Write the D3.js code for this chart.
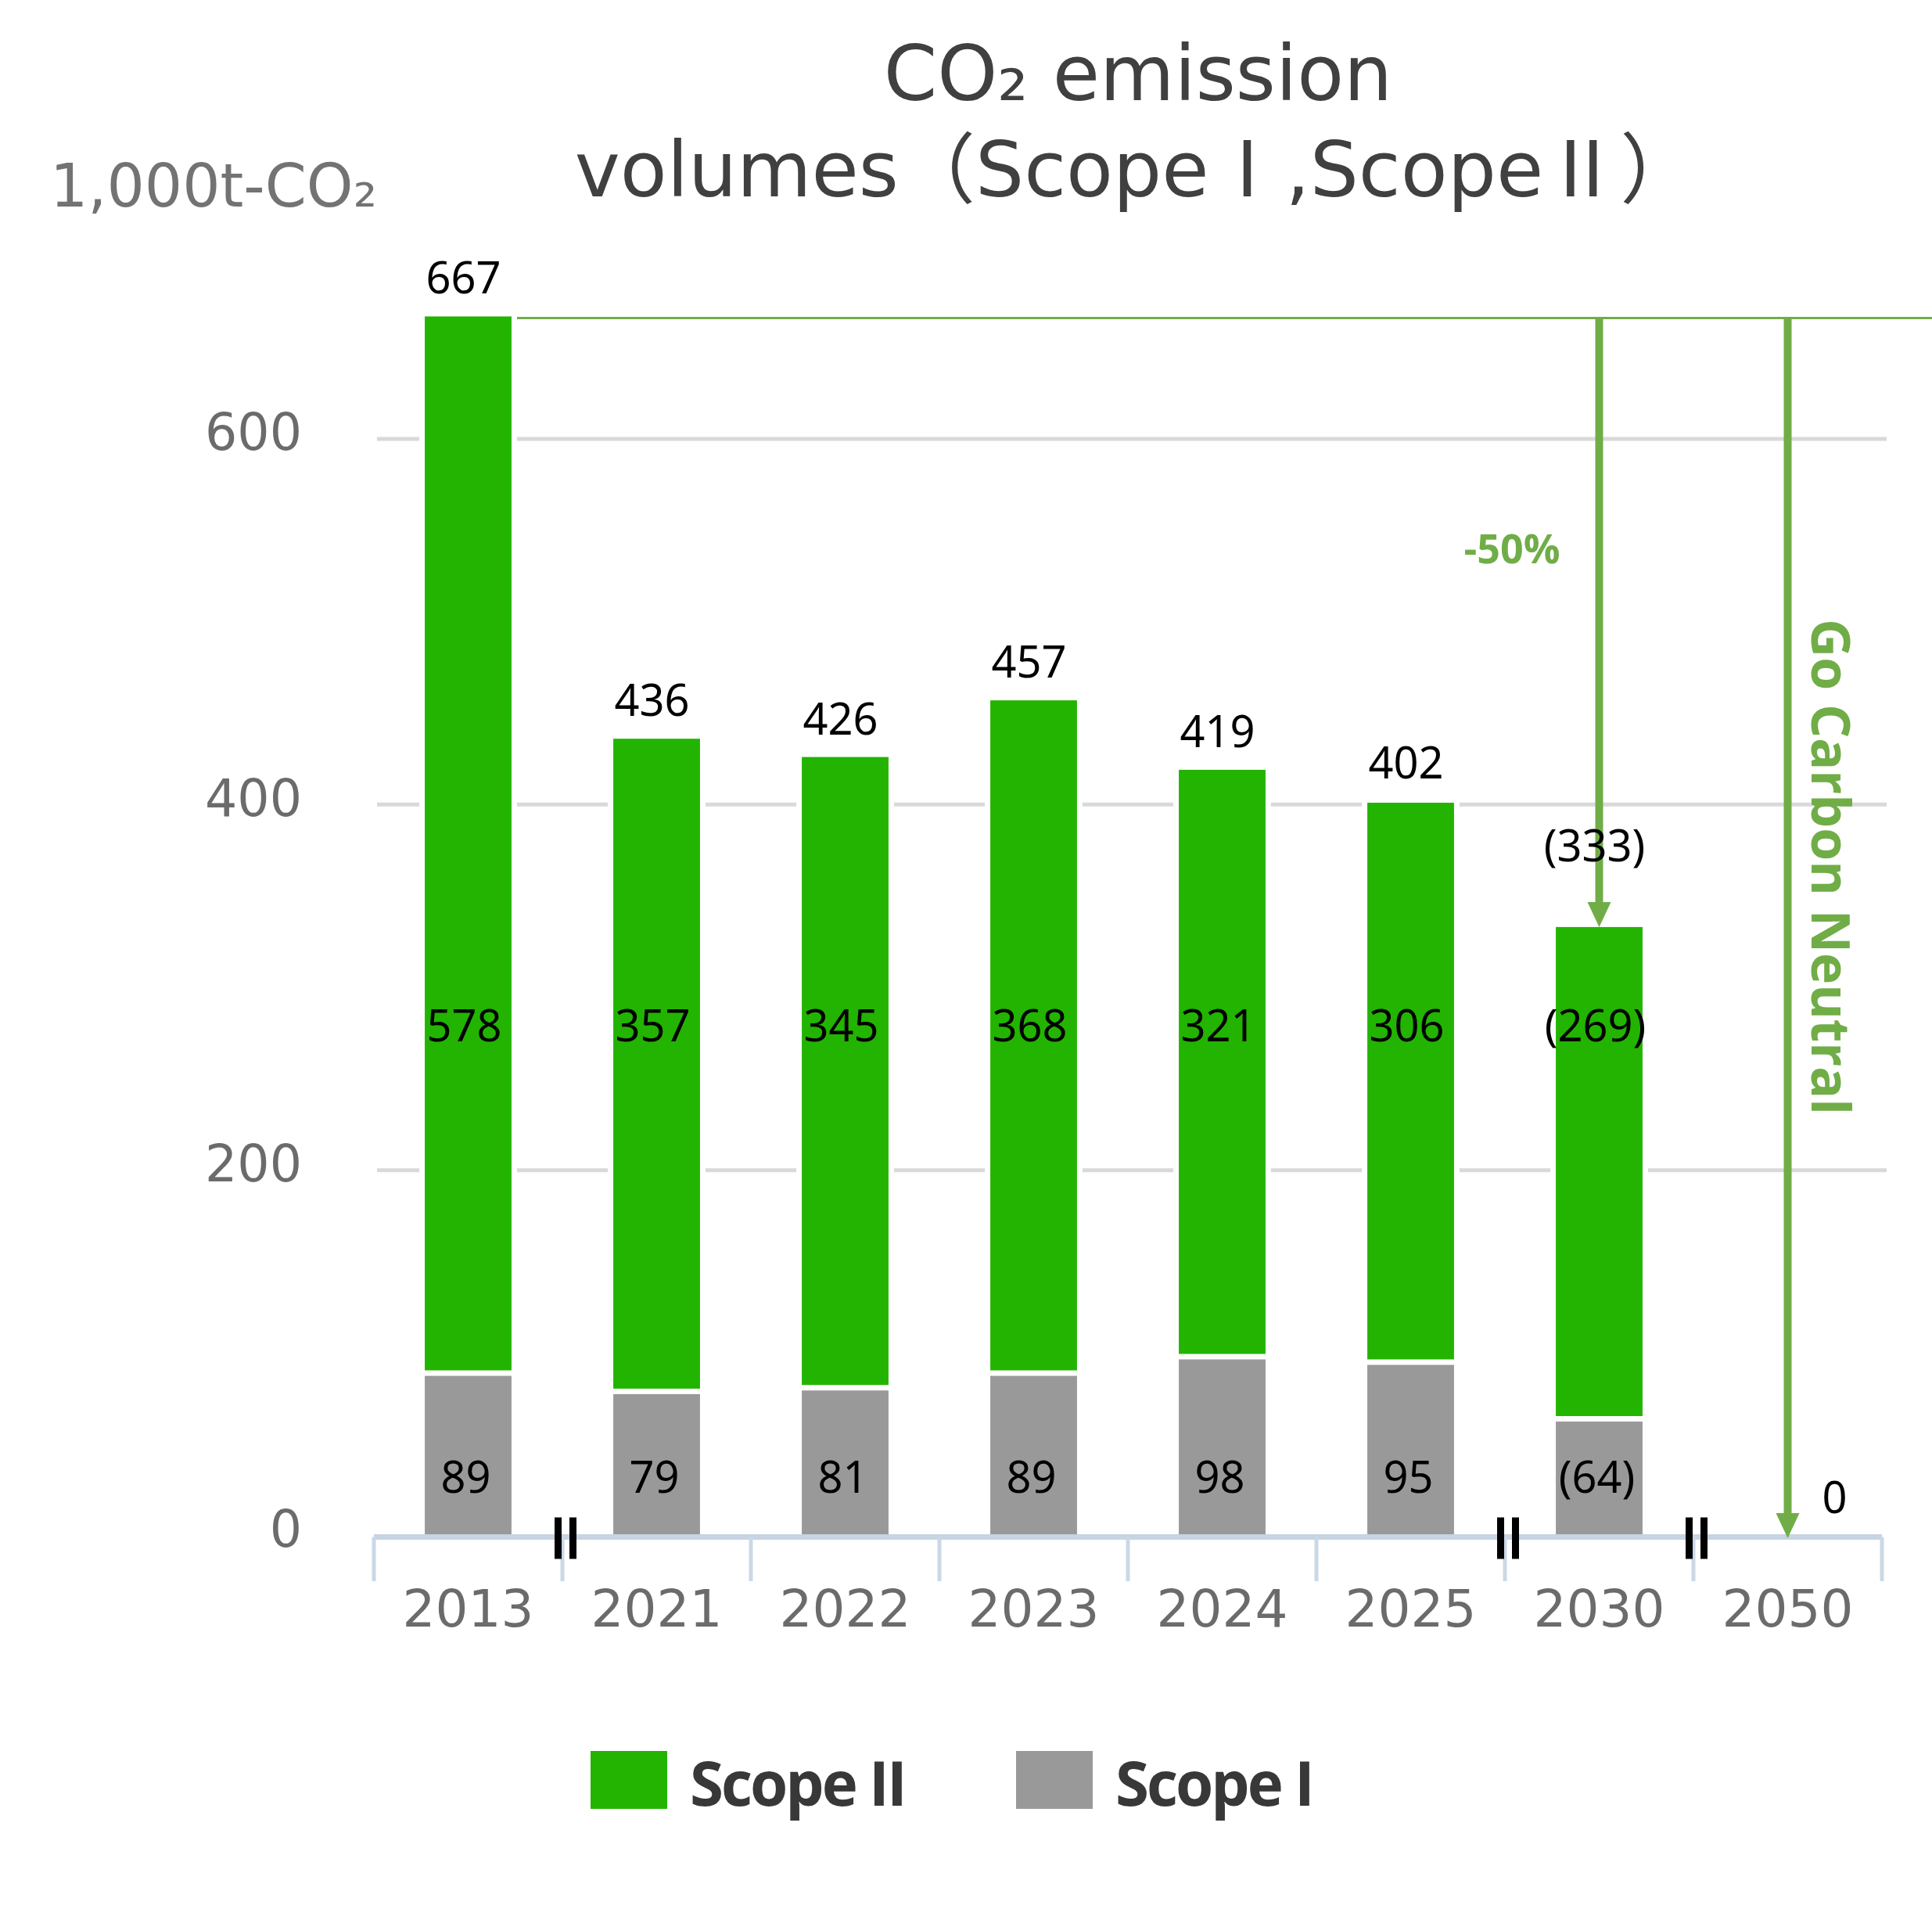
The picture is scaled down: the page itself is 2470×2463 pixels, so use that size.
<!DOCTYPE html>
<html>
<head>
<meta charset="utf-8">
<style>
  body { margin: 0; background: #fff; }
  svg { display: block; }
  .tick-label { font-family: "DejaVu Sans", Verdana, sans-serif; fill: #6b6b6b; }
  .val { font-family: "Noto Sans", sans-serif; font-size: 56px; fill: #000; text-anchor: middle; }
  .note { font-family: "Open Sans", sans-serif; font-weight: 700; fill: #70ad47; }
  .legend-text { font-family: "Open Sans", sans-serif; font-weight: 700; fill: #383838; }
  .cjk { font-family: "Noto Sans CJK JP", sans-serif; }
</style>
</head>
<body>
<script src="https://d3js.org/d3.v7.min.js"></script>
<script>
// data
var years = ["2013", "2021", "2022", "2023", "2024", "2025", "2030", "2050"];
var scope1 = [89, 79, 81, 89, 98, 95, 64, 0];
var scope2 = [578, 357, 345, 368, 321, 306, 269, 0];
var totals = [667, 436, 426, 457, 419, 402, 333, 0];
var isTarget = [false, false, false, false, false, false, true, false];
var yTicks = [0, 200, 400, 600];
var breaksAfter = ["2013", "2025", "2030"];
var arrowYears = ["2030", "2050"];
var seriesNames = ["Scope II", "Scope I"];

var width = 2470, height = 2463;
var green = "#22b400", grey = "#999999", noteGreen = "#70ad47";

var svg = d3.select("body").append("svg")
    .attr("width", width)
    .attr("height", height);

var x = d3.scaleBand().domain(years).range([478, 2406]);
var y = d3.scaleLinear().domain([0, 600]).range([1963, 561]);
var barW = x.bandwidth() * 0.46;
function bx(d) { return x(d) + (x.bandwidth() - barW) / 2; }
function cx(d) { return x(d) + x.bandwidth() / 2; }
function fmt(v, i) { return isTarget[i] ? "(" + v + ")" : String(v); }

// title
var title = svg.append("text")
    .attr("text-anchor", "middle")
    .style("font-family", "'DejaVu Sans', sans-serif")
    .style("font-size", "98px")
    .style("fill", "#404040");
title.append("tspan").attr("x", 1455).attr("y", 128).text("CO₂ emission");
var t2 = title.append("tspan").attr("x", 1452).attr("y", 251);
t2.append("tspan").text("volumes");
t2.append("tspan").attr("class", "cjk").text("（");
t2.append("tspan").text("Scope");
t2.append("tspan").attr("class", "cjk").text("Ⅰ");
t2.append("tspan").text(",Scope");
t2.append("tspan").attr("class", "cjk").text("Ⅱ）");

// unit
svg.append("text")
    .attr("class", "tick-label")
    .attr("x", 64).attr("y", 264)
    .style("font-size", "76px")
    .style("fill", "#737373")
    .text("1,000t-CO₂");

// gridlines
svg.append("g").selectAll("line")
    .data(yTicks.filter(function(d) { return d > 0; }))
  .enter().append("line")
    .attr("x1", 482).attr("x2", 2412)
    .attr("y1", function(d) { return y(d); })
    .attr("y2", function(d) { return y(d); })
    .attr("stroke", "#d9d9d9")
    .attr("stroke-width", 5);

// y labels
svg.append("g").selectAll("text")
    .data(yTicks)
  .enter().append("text")
    .attr("class", "tick-label")
    .attr("x", 386)
    .attr("y", function(d) { return y(d) - 9; })
    .attr("dy", "0.36em")
    .attr("text-anchor", "end")
    .style("font-size", "65px")
    .text(function(d) { return d; });

// reference line at the 2013 level
var refY = y(totals[0]) + 2;
svg.append("line")
    .attr("x1", bx(years[0]) + barW + 7).attr("x2", width)
    .attr("y1", refY).attr("y2", refY)
    .attr("stroke", noteGreen)
    .attr("stroke-width", 3);

// bars
var rows = years.map(function(d, i) {
  return { year: d, s1: scope1[i], s2: scope2[i], total: totals[i], i: i };
});
var bars = svg.append("g").selectAll("g")
    .data(rows.filter(function(d) { return d.s1 + d.s2 > 0; }))
  .enter().append("g");

bars.append("rect")
    .attr("x", function(d) { return bx(d.year) - 7; })
    .attr("width", barW + 14)
    .attr("y", function(d) { return y(d.s1 + d.s2) - 7; })
    .attr("height", function(d) { return y(0) - y(d.s1 + d.s2) + 7; })
    .attr("fill", "#fff");

bars.append("rect")
    .attr("x", function(d) { return bx(d.year); })
    .attr("width", barW)
    .attr("y", function(d) { return y(d.s1) + 3.5; })
    .attr("height", function(d) { return y(0) - y(d.s1) - 3.5; })
    .attr("fill", grey);

bars.append("rect")
    .attr("x", function(d) { return bx(d.year); })
    .attr("width", barW)
    .attr("y", function(d) { return y(d.s1 + d.s2); })
    .attr("height", function(d) { return y(d.s1) - y(d.s1 + d.s2) - 3.5; })
    .attr("fill", green);

// x axis
var axisY = y(0) + 1.5;
svg.append("line")
    .attr("x1", 478).attr("x2", 2406)
    .attr("y1", axisY).attr("y2", axisY)
    .attr("stroke", "#c6d4e3")
    .attr("stroke-width", 7);
var bounds = years.map(function(d) { return x(d); }).concat([x.range()[1]]);
svg.append("g").selectAll("line")
    .data(bounds)
  .enter().append("line")
    .attr("x1", function(d) { return d; }).attr("x2", function(d) { return d; })
    .attr("y1", axisY).attr("y2", 2021)
    .attr("stroke", "#cad8e6")
    .attr("stroke-width", 5);

svg.append("g").selectAll("text")
    .data(years)
  .enter().append("text")
    .attr("class", "tick-label")
    .attr("x", function(d) { return cx(d); })
    .attr("y", 2079)
    .attr("text-anchor", "middle")
    .style("font-size", "66px")
    .text(function(d) { return d; });

// axis break marks
var breaks = svg.append("g").selectAll("g")
    .data(breaksAfter)
  .enter().append("g")
    .attr("transform", function(d) { return "translate(" + (x(d) + x.bandwidth() + 4) + "," + axisY + ")"; });
breaks.append("rect").attr("x", -14).attr("y", -25).attr("width", 9).attr("height", 53).attr("fill", "#000");
breaks.append("rect").attr("x", 5).attr("y", -25).attr("width", 9).attr("height", 53).attr("fill", "#000");

// arrows
var arrows = svg.append("g").selectAll("g")
    .data(arrowYears)
  .enter().append("g");
arrows.append("line")
    .attr("x1", function(d) { return cx(d); }).attr("x2", function(d) { return cx(d); })
    .attr("y1", refY)
    .attr("y2", function(d) { return y(totals[years.indexOf(d)]) - 25; })
    .attr("stroke", noteGreen)
    .attr("stroke-width", 10);
arrows.append("path")
    .attr("d", function(d) {
      var tx = cx(d), ty = y(totals[years.indexOf(d)]) + (totals[years.indexOf(d)] === 0 ? 3 : 0);
      return "M" + (tx - 15) + "," + (ty - 32) + "L" + (tx + 15) + "," + (ty - 32) + "L" + tx + "," + ty + "Z";
    })
    .attr("fill", noteGreen);

svg.append("text")
    .attr("class", "note")
    .attr("x", cx("2030") - 50).attr("y", 720)
    .attr("text-anchor", "end")
    .style("font-size", "52px")
    .text("-50%");

svg.append("text")
    .attr("class", "note")
    .attr("transform", "translate(" + (cx("2050") + 30) + ",1108) rotate(90)")
    .attr("text-anchor", "middle")
    .style("font-size", "68px")
    .text("Go Carbon Neutral");

// value labels
var labels = svg.append("g");
labels.selectAll(".tot")
    .data(rows)
  .enter().append("text")
    .attr("class", "val")
    .attr("x", function(d) {
      var shift = (arrowYears.indexOf(d.year) >= 0 && d.total === 0) ? 60 : -6;
      return cx(d.year) + shift;
    })
    .attr("y", function(d) {
      var lift = (arrowYears.indexOf(d.year) >= 0 && d.total > 0) ? 84 : 29;
      return y(d.total) - lift;
    })
    .text(function(d) { return fmt(d.total, d.i); });

labels.selectAll(".s2")
    .data(rows.filter(function(d) { return d.s2 > 0; }))
  .enter().append("text")
    .attr("class", "val")
    .attr("x", function(d) { return cx(d.year) - 5; })
    .attr("y", y(279))
    .attr("dy", "0.36em")
    .text(function(d) { return fmt(d.s2, d.i); });

labels.selectAll(".s1")
    .data(rows.filter(function(d) { return d.s1 > 0; }))
  .enter().append("text")
    .attr("class", "val")
    .attr("x", function(d) { return cx(d.year) - 3; })
    .attr("y", y(32))
    .attr("dy", "0.36em")
    .text(function(d) { return fmt(d.s1, d.i); });

// legend
var legend = svg.append("g").selectAll("g")
    .data(seriesNames)
  .enter().append("g")
    .attr("transform", function(d, i) { return "translate(" + (755 + i * 544) + ",2238)"; });
legend.append("rect")
    .attr("width", 98).attr("height", 74)
    .attr("fill", function(d, i) { return i === 0 ? green : grey; });
legend.append("text")
    .attr("class", "legend-text")
    .attr("x", 127).attr("y", 70)
    .style("font-size", "78px")
    .style("letter-spacing", "-3px")
    .text(function(d) { return d; });
</script>
</body>
</html>
